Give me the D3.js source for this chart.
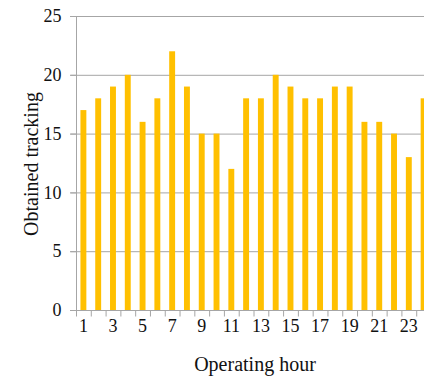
<!DOCTYPE html>
<html><head><meta charset="utf-8">
<script src="https://cdn.jsdelivr.net/npm/d3@7"></script>
<style>body{margin:0;background:#fff;overflow:hidden}svg{display:block}
svg text{font-family:"Liberation Serif","Times New Roman",Tinos,"DejaVu Serif",serif}</style>
</head><body>
<script>
const hours = d3.range(1, 25).map(String);
const tracking = [17,18,19,20,16,18,22,19,15,15,12,18,18,20,19,18,18,19,19,16,16,15,13,18];
const yTicks = [0,5,10,15,20,25];
const xTickLabels = ["1","3","5","7","9","11","13","15","17","19","21","23"];

const W = 424, H = 379;
const svg = d3.select("body").append("svg").attr("width", W).attr("height", H);
const mLeft = 76, mRight = 431, mTop = 16, mBottom = 310;

const x = d3.scaleBand().domain(hours).range([mLeft, mRight]).paddingInner(0.6).paddingOuter(0.3);
const xb = d3.scaleBand().domain(hours).range([mLeft, mRight]).padding(0);
const y = d3.scaleLinear().domain([0, 25]).range([mBottom, mTop]);

// gridlines
svg.append("g").selectAll("line").data(yTicks.filter(d => d > 0)).join("line")
  .attr("x1", mLeft - 6).attr("x2", W).attr("y1", d => y(d) + 0.5).attr("y2", d => y(d) + 0.5)
  .attr("stroke", "#a6a6a6").attr("stroke-width", 1);

// bars
svg.append("g").selectAll("rect").data(tracking).join("rect")
  .attr("x", (d, i) => x(hours[i])).attr("width", x.bandwidth())
  .attr("y", d => y(d)).attr("height", d => y(0) - y(d))
  .attr("fill", "#FFC000");

// y axis
const yAxis = svg.append("g").attr("transform", `translate(${mLeft + 0.5},0)`)
  .call(d3.axisLeft(y).tickValues(yTicks).tickSize(6).tickPadding(9));
yAxis.attr("font-family", null);
yAxis.select(".domain").attr("stroke", "#a6a6a6").attr("d", `M-6,${mTop + 0.5}H0V${mBottom + 0.5}`);
yAxis.selectAll(".tick line").attr("stroke", "#a6a6a6");
yAxis.selectAll("text").attr("font-size", 18).attr("fill", "#111");

// x axis
const xAxis = svg.append("g").attr("transform", `translate(0,${mBottom + 0.5})`);
xAxis.append("line").attr("x1", mLeft - 6).attr("x2", W).attr("y1", 0).attr("y2", 0).attr("stroke", "#a6a6a6");
xAxis.selectAll("line.tk").data(hours.concat(["end"])).join("line").attr("class", "tk")
  .attr("x1", d => (d === "end" ? mRight : xb(d)) + 0.5).attr("x2", d => (d === "end" ? mRight : xb(d)) + 0.5)
  .attr("y1", 0).attr("y2", 6).attr("stroke", "#a6a6a6");
xAxis.selectAll("text").data(xTickLabels).join("text")
  .attr("x", d => xb(d) + xb.bandwidth() / 2).attr("y", 21)
  .attr("text-anchor", "middle").attr("font-size", 18).attr("fill", "#111")
  .text(d => d);

// titles
svg.append("text").attr("x", 255).attr("y", 371).attr("text-anchor", "middle")
  .attr("font-size", 20).attr("fill", "#111").text("Operating hour");
svg.append("text").attr("transform", "translate(38,164) rotate(-90)").attr("text-anchor", "middle")
  .attr("font-size", 20).attr("fill", "#111").text("Obtained tracking");
</script>
</body></html>
